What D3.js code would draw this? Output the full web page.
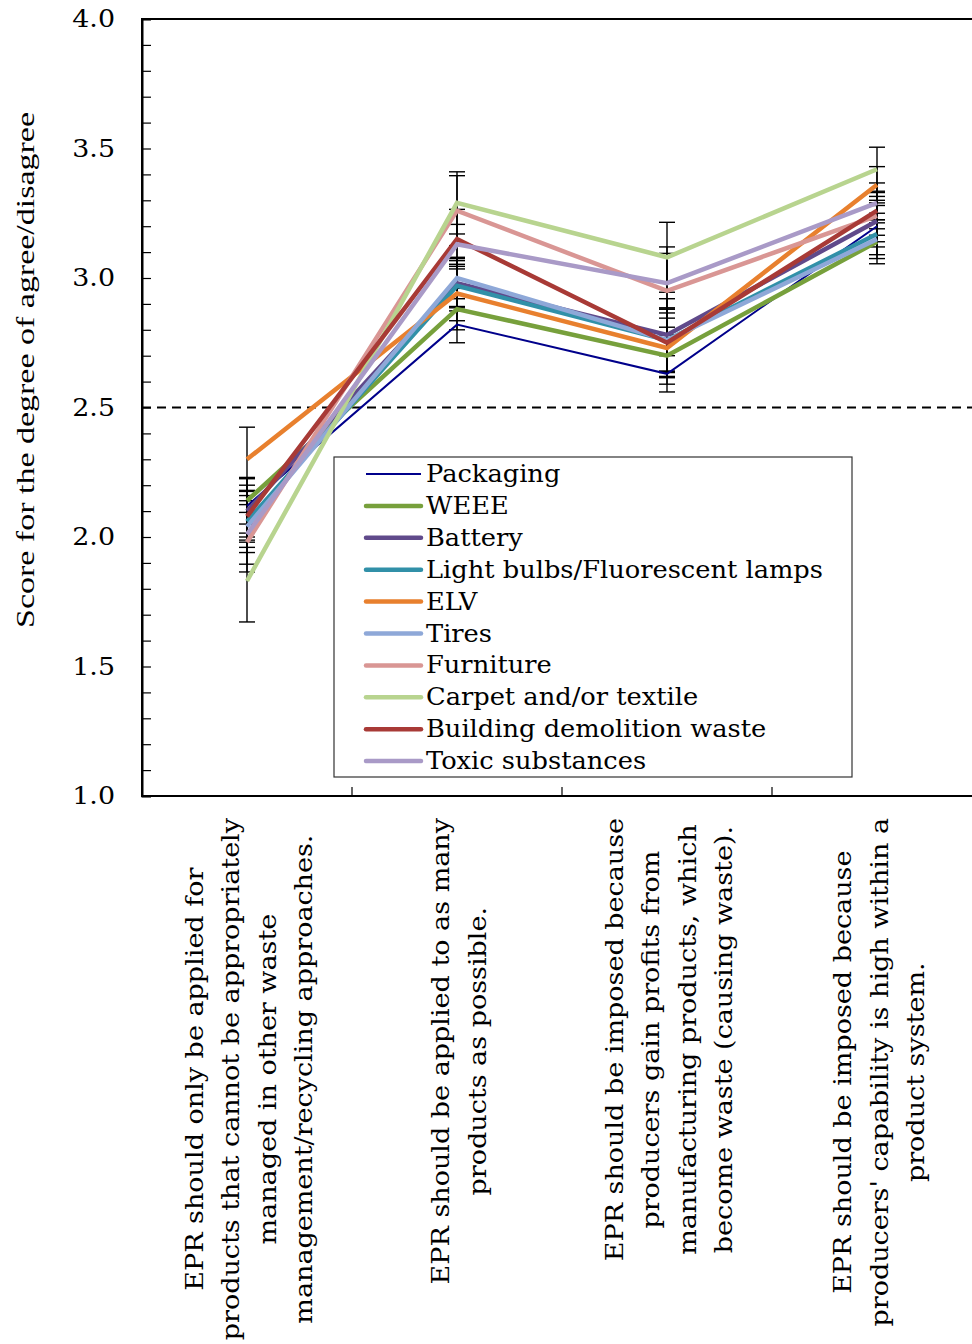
<!DOCTYPE html>
<html>
<head>
<meta charset="utf-8">
<script src="https://cdn.jsdelivr.net/npm/d3@7"></script>
<style>
  html, body { margin: 0; padding: 0; background: #fff; }
  svg { display: block; }
</style>
</head>
<body>
<div id="chart"></div>
<script>
// Survey statements (x categories), each split into display lines
const categories = ["only", "many", "profits", "capability"];
const categoryLines = [
  ["EPR should only be applied for", "products that cannot be appropriately", "managed in other waste", "management/recycling approaches."],
  ["EPR should be applied to as many", "products as possible."],
  ["EPR should be imposed because", "producers gain profits from", "manufacturing products,  which", "become waste (causing waste)."],
  ["EPR should be imposed because", "producers' capability is high within a", "product system."]
];

// Product groups
const seriesNames = ["Packaging", "WEEE", "Battery", "Light bulbs/Fluorescent lamps", "ELV",
  "Tires", "Furniture", "Carpet and/or textile", "Building demolition waste", "Toxic substances"];
const seriesColors = ["#00008B", "#77A03C", "#604A8B", "#3190A8", "#E8802E",
  "#8EA8D8", "#D99694", "#B8D48F", "#A83A36", "#A99AC7"];

// Mean scores per statement (same order as categories)
const packaging   = [2.12, 2.82, 2.63, 3.20];
const weee        = [2.14, 2.88, 2.70, 3.14];
const battery     = [2.10, 2.98, 2.78, 3.22];
const lightBulbs  = [2.06, 2.97, 2.76, 3.17];
const elv         = [2.30, 2.94, 2.73, 3.36];
const tires       = [2.04, 3.00, 2.76, 3.15];
const furniture   = [1.98, 3.26, 2.95, 3.24];
const carpet      = [1.83, 3.29, 3.08, 3.42];
const demolition  = [2.08, 3.15, 2.75, 3.26];
const toxic       = [2.01, 3.13, 2.98, 3.29];

// Standard errors per statement
const packagingErr  = [0.105, 0.070, 0.070, 0.080];
const weeeErr       = [0.090, 0.080, 0.110, 0.085];
const batteryErr    = [0.100, 0.095, 0.140, 0.080];
const lightBulbsErr = [0.100, 0.097, 0.120, 0.080];
const elvErr        = [0.124, 0.105, 0.115, 0.070];
const tiresErr      = [0.100, 0.080, 0.125, 0.075];
const furnitureErr  = [0.115, 0.135, 0.170, 0.075];
const carpetErr     = [0.158, 0.120, 0.135, 0.085];
const demolitionErr = [0.100, 0.115, 0.130, 0.070];
const toxicErr      = [0.115, 0.077, 0.115, 0.077];

const seriesValues = [packaging, weee, battery, lightBulbs, elv, tires, furniture, carpet, demolition, toxic];
const seriesErrors = [packagingErr, weeeErr, batteryErr, lightBulbsErr, elvErr, tiresErr, furnitureErr, carpetErr, demolitionErr, toxicErr];

const yTickValues = [1.0, 1.5, 2.0, 2.5, 3.0, 3.5, 4.0];
const neutralScore = 2.5;
const yTitle = "Score for the degree of agree/disagree";

const W = 972, H = 1344;
const plot = { left: 142, right: 982, top: 19, bottom: 796 };
const serif = "'DejaVu Serif', serif";

// Widen a text element horizontally by a factor (wide book-style serif look)
function widen(sel, factor) {
  sel.each(function () {
    const w = this.getComputedTextLength();
    d3.select(this).attr("textLength", w * factor).attr("lengthAdjust", "spacingAndGlyphs");
  });
  return sel;
}

const svg = d3.select("#chart").append("svg")
  .attr("width", W).attr("height", H)
  .style("background", "#fff");

const x = d3.scaleBand().domain(categories).range([plot.left, plot.right]);
const cx = c => x(c) + x.bandwidth() / 2;
const y = d3.scaleLinear().domain([1, 4]).range([plot.bottom, plot.top]);

// Plot frame (top edge; right edge falls outside the page)
svg.append("rect")
  .attr("x", plot.left).attr("y", plot.top)
  .attr("width", plot.right - plot.left).attr("height", plot.bottom - plot.top)
  .attr("fill", "none").attr("stroke", "#000").attr("stroke-width", 2);

// Y axis with inward minor ticks every 0.1
const minorTicks = d3.range(10, 41).map(v => v / 10);
const yAxis = d3.axisLeft(y)
  .tickValues(minorTicks)
  .tickSize(-9)
  .tickPadding(27)
  .tickFormat(v => yTickValues.some(t => Math.abs(t - v) < 1e-9) ? d3.format(".1f")(v) : "");
const gy = svg.append("g").attr("transform", `translate(${plot.left},0)`).call(yAxis);
gy.select(".domain").attr("stroke-width", 2);
gy.selectAll(".tick line").attr("stroke-width", 1.2);
const tickLabels = gy.selectAll(".tick text")
  .attr("font-family", serif).attr("font-size", 24).attr("fill", "#000");
widen(tickLabels.filter(function () { return this.textContent !== ""; }), 1.12);

// X axis: baseline and inward ticks at statement boundaries
svg.append("line")
  .attr("x1", plot.left).attr("x2", plot.right)
  .attr("y1", plot.bottom).attr("y2", plot.bottom)
  .attr("stroke", "#000").attr("stroke-width", 2);
svg.append("g").selectAll("line")
  .data(categories.slice(1))
  .join("line")
  .attr("x1", c => x(c)).attr("x2", c => x(c))
  .attr("y1", plot.bottom).attr("y2", plot.bottom - 9)
  .attr("stroke", "#000").attr("stroke-width", 1.2);

// Neutral reference line
svg.append("line")
  .attr("x1", plot.left).attr("x2", W)
  .attr("y1", y(neutralScore)).attr("y2", y(neutralScore))
  .attr("stroke", "#000").attr("stroke-width", 2)
  .attr("stroke-dasharray", "9,6");

// Error bars
const errData = [];
seriesValues.forEach((vals, s) => vals.forEach((v, i) => {
  errData.push({ c: categories[i], v, e: seriesErrors[s][i] });
}));
const eg = svg.append("g").attr("stroke", "#000").attr("stroke-width", 1.4);
eg.selectAll("line.stem").data(errData).join("line").attr("class", "stem")
  .attr("x1", d => cx(d.c)).attr("x2", d => cx(d.c))
  .attr("y1", d => y(d.v - d.e)).attr("y2", d => y(d.v + d.e));
eg.selectAll("line.capHi").data(errData).join("line").attr("class", "capHi")
  .attr("x1", d => cx(d.c) - 8).attr("x2", d => cx(d.c) + 8)
  .attr("y1", d => y(d.v + d.e)).attr("y2", d => y(d.v + d.e));
eg.selectAll("line.capLo").data(errData).join("line").attr("class", "capLo")
  .attr("x1", d => cx(d.c) - 8).attr("x2", d => cx(d.c) + 8)
  .attr("y1", d => y(d.v - d.e)).attr("y2", d => y(d.v - d.e));

// Series lines
const line = d3.line().x(d => cx(d.c)).y(d => y(d.v));
svg.append("g").selectAll("path")
  .data(seriesValues.map((vals, s) => ({ s, pts: vals.map((v, i) => ({ c: categories[i], v })) })))
  .join("path")
  .attr("d", d => line(d.pts))
  .attr("fill", "none")
  .attr("stroke", d => seriesColors[d.s])
  .attr("stroke-width", d => d.s === 0 ? 2 : 4.5)
  .attr("stroke-linejoin", "miter");

// Legend
const legend = { x: 334, y: 457, w: 518, h: 320, row0: 474, step: 31.9 };
const lg = svg.append("g");
lg.append("rect")
  .attr("x", legend.x).attr("y", legend.y).attr("width", legend.w).attr("height", legend.h)
  .attr("fill", "#fff").attr("stroke", "#333").attr("stroke-width", 1.2);
seriesNames.forEach((name, s) => {
  const ry = legend.row0 + s * legend.step;
  lg.append("line")
    .attr("x1", 366).attr("x2", 421).attr("y1", ry).attr("y2", ry)
    .attr("stroke", seriesColors[s]).attr("stroke-width", s === 0 ? 2 : 4.5)
    .attr("stroke-linecap", s === 0 ? "butt" : "round");
  const t = lg.append("text")
    .attr("x", 426).attr("y", ry + 8)
    .attr("font-family", serif).attr("font-size", 24).attr("fill", "#000")
    .text(name);
  widen(t, 1.07);
});

// Y axis title
svg.append("text")
  .attr("transform", `translate(34,${370}) rotate(-90)`)
  .attr("text-anchor", "middle")
  .attr("font-family", "'Liberation Serif', serif")
  .attr("font-size", 26)
  .attr("textLength", 516).attr("lengthAdjust", "spacingAndGlyphs")
  .attr("fill", "#000")
  .text(yTitle);

// Statement labels, rotated, top-aligned under the axis
const labelTop = 818, lineStep = 36.5, labelSize = 24, labelWiden = 1.125;
categories.forEach((c, i) => {
  const lines = categoryLines[i];
  const g = svg.append("g");
  const texts = lines.map((ln, k) => g.append("text")
    .attr("font-family", serif).attr("font-size", labelSize)
    .attr("text-anchor", "middle").attr("fill", "#000")
    .attr("x", 0)
    .attr("y", (k - (lines.length - 1) / 2) * lineStep + 8)
    .text(ln));
  texts.forEach(t => widen(t, labelWiden));
  const maxW = d3.max(texts, t => +t.attr("textLength"));
  g.attr("transform", `translate(${cx(c) + 2.5},${labelTop + maxW / 2}) rotate(-90)`);
});
</script>
</body>
</html>
